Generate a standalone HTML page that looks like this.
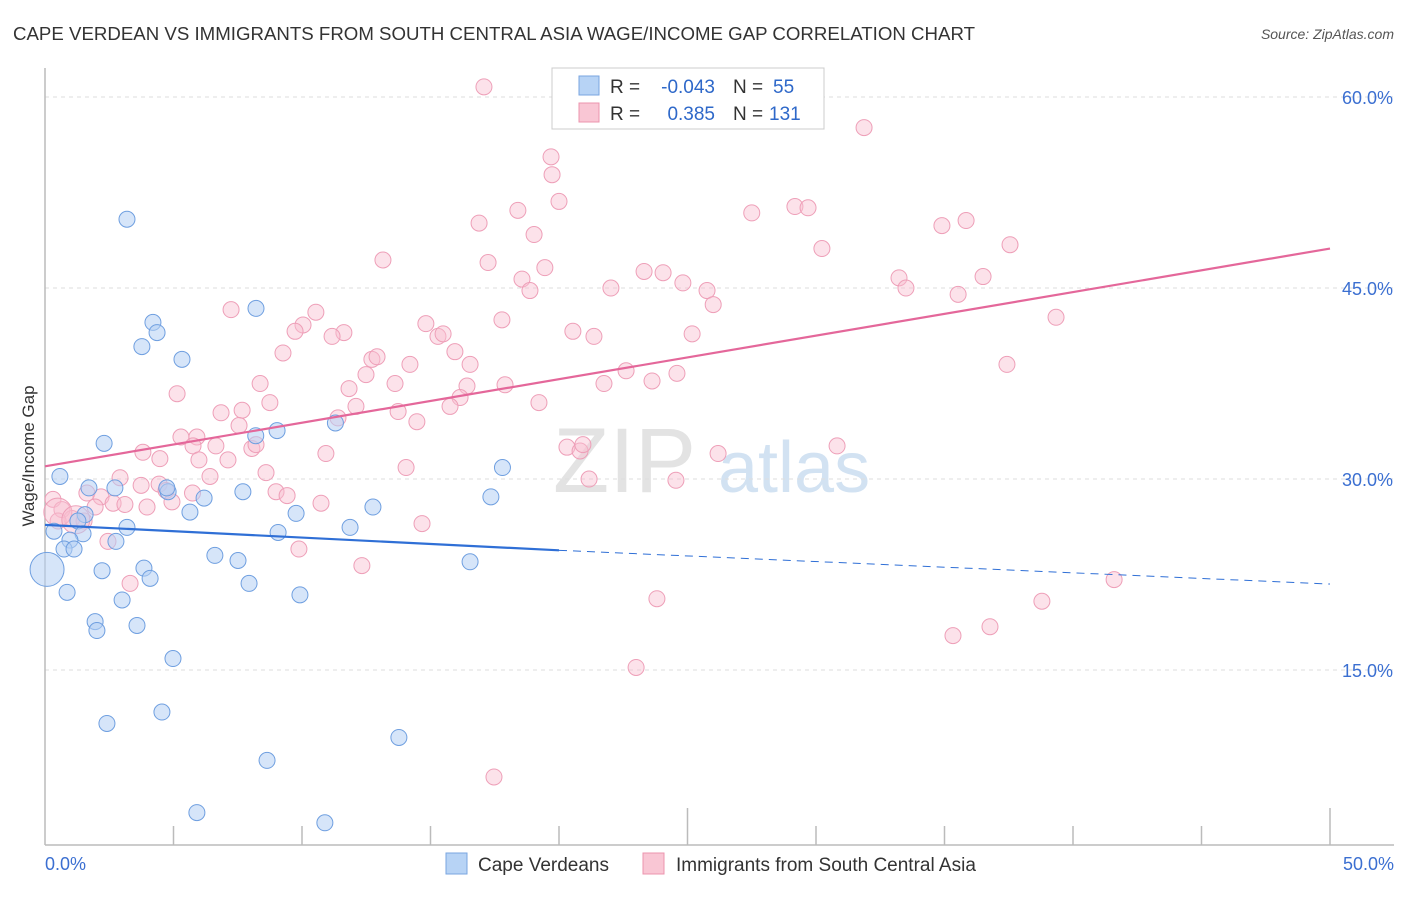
<!DOCTYPE html>
<html><head><meta charset="utf-8">
<style>
body{margin:0;background:#fff;font-family:"Liberation Sans",sans-serif;}
svg text{font-family:"Liberation Sans",sans-serif;}
</style></head>
<body>
<svg id="chart" width="1406" height="892" xmlns="http://www.w3.org/2000/svg">
<text x="13" y="40" font-size="18" fill="#333" textLength="962" lengthAdjust="spacingAndGlyphs">CAPE VERDEAN VS IMMIGRANTS FROM SOUTH CENTRAL ASIA WAGE/INCOME GAP CORRELATION CHART</text>
<text x="1394" y="39" font-size="14" fill="#555" text-anchor="end" font-style="italic">Source: ZipAtlas.com</text>
<text x="553" y="492" font-size="92" fill="#ddd" font-family="Liberation Serif" opacity="0.8">ZIP</text>
<text x="718" y="492" font-size="72" fill="#c8dcf0" opacity="0.8">atlas</text>
<g id="grid"></g>
<g id="axes"></g>
<g id="pink"></g>
<g id="blue"></g>
<g id="lines"></g>
<text transform="translate(34,456) rotate(-90)" font-size="17" fill="#333" text-anchor="middle">Wage/Income Gap</text>
<text x="45" y="870" font-size="18" fill="#3b6fd1">0.0%</text>
<text x="1394" y="870" font-size="18" fill="#3b6fd1" text-anchor="end">50.0%</text>
<g>
<rect x="552" y="68" width="272" height="61" fill="#fff" stroke="#ccc"/>
<rect x="579" y="76" width="20" height="19" fill="#b7d3f5" stroke="#7aa6e0"/>
<rect x="579" y="103" width="20" height="19" fill="#f9c6d4" stroke="#ec94ae"/>
<text x="610" y="93" font-size="19" fill="#333">R =</text>
<text x="715" y="93" font-size="19" fill="#2e68c9" text-anchor="end">-0.043</text>
<text x="733" y="93" font-size="19" fill="#333">N =</text>
<text x="773" y="93" font-size="19" fill="#2e68c9">55</text>
<text x="610" y="120" font-size="19" fill="#333">R =</text>
<text x="715" y="120" font-size="19" fill="#2e68c9" text-anchor="end">0.385</text>
<text x="733" y="120" font-size="19" fill="#333">N =</text>
<text x="769" y="120" font-size="19" fill="#2e68c9">131</text>
</g>
<g>
<rect x="446" y="853" width="21" height="21" fill="#b7d3f5" stroke="#7aa6e0"/>
<text x="478" y="871" font-size="19" fill="#333">Cape Verdeans</text>
<rect x="643" y="853" width="21" height="21" fill="#f9c6d4" stroke="#ec94ae"/>
<text x="676" y="871" font-size="19" fill="#333">Immigrants from South Central Asia</text>
</g>
</svg>
<script>
const yTicks=[15,30,45,60];
const yTickLabels=["15.0%","30.0%","45.0%","60.0%"];
const xTicks=[5,10,15,20,25,30,35,40,45,50];
const blueX=[3.19,8.21,4.2,4.36,3.77,5.33,2.3,9.03,8.2,11.3,0.58,1.71,2.72,4.79,4.74,6.19,7.7,17.8,17.35,12.76,9.77,5.64,1.56,1.28,3.19,0.35,1.48,11.87,9.07,0.97,2.76,0.74,1.13,6.61,7.51,16.54,3.85,2.22,4.09,7.94,0.86,3.0,9.92,1.95,2.02,3.58,4.98,4.55,2.41,13.77,8.64,5.91,10.89,0.08];
const blueY=[50.4,43.4,42.3,41.5,40.4,39.4,32.8,33.8,33.4,34.4,30.2,29.3,29.3,29.0,29.3,28.5,29.0,30.9,28.6,27.8,27.3,27.4,27.2,26.7,26.2,25.9,25.7,26.2,25.8,25.2,25.1,24.5,24.5,24.0,23.6,23.5,23.0,22.8,22.2,21.8,21.1,20.5,20.9,18.8,18.1,18.5,15.9,11.7,10.8,9.7,7.9,3.8,3.0,22.9];
const pinkX=[17.08,31.87,19.69,19.73,20.0,18.4,16.89,27.5,29.18,29.69,35.84,34.9,19.03,37.55,30.23,13.15,17.24,19.45,23.31,24.05,18.56,18.87,24.82,33.23,36.5,22.02,25.76,33.5,35.53,26.0,7.24,10.54,10.04,17.78,14.82,39.34,9.73,11.63,11.17,15.29,15.49,20.54,21.36,25.18,15.95,9.26,12.72,12.92,14.2,16.54,37.43,12.49,11.83,13.62,16.42,17.9,22.61,23.62,24.59,21.75,8.37,5.14,8.75,16.15,19.22,12.1,11.4,6.85,7.67,13.74,15.76,14.47,7.55,5.29,5.91,5.76,6.65,3.81,8.05,8.21,10.93,4.47,5.99,7.12,20.31,20.82,20.93,26.19,30.82,14.05,2.92,6.42,8.6,21.17,24.55,3.74,4.44,1.63,2.18,5.74,8.99,9.42,4.71,10.74,2.65,3.11,3.97,4.94,1.95,0.31,0.66,1.05,1.52,0.51,14.67,2.45,9.88,3.31,12.33,41.6,23.81,38.79,36.77,35.33,23.0,17.47,0.5,1.2];
const pinkY=[60.8,57.6,55.3,53.9,51.8,51.1,50.1,50.9,51.4,51.3,50.3,49.9,49.2,48.4,48.1,47.2,47.0,46.6,46.3,46.2,45.7,44.8,45.4,45.8,45.9,45.0,44.8,45.0,44.5,43.7,43.3,43.1,42.1,42.5,42.2,42.7,41.6,41.5,41.2,41.2,41.4,41.6,41.2,41.4,40.0,39.9,39.4,39.6,39.0,39.0,39.0,38.2,37.1,37.5,37.3,37.4,38.5,37.7,38.3,37.5,37.5,36.7,36.0,36.4,36.0,35.7,34.8,35.2,35.4,35.3,35.7,34.5,34.2,33.3,33.3,32.6,32.6,32.1,32.4,32.7,32.0,31.6,31.5,31.5,32.5,32.2,32.7,32.0,32.6,30.9,30.1,30.2,30.5,30.0,29.9,29.5,29.6,28.9,28.6,28.9,29.0,28.7,29.1,28.1,28.1,28.0,27.8,28.2,27.8,28.4,27.6,26.9,26.7,26.7,26.5,25.1,24.5,21.8,23.2,22.1,20.6,20.4,18.4,17.7,15.2,6.6,27.4,26.8];
const blueTrend=[[0,26.4],[20,24.4],[50,21.75]];
const pinkTrend=[[0,31.0],[50,48.1]];
const X0=45,X1=1330,Y0=861,PXV=12.733;
const xs=v=>X0+(X1-X0)*v/50;
const ys=v=>Y0-PXV*v;
const NS="http://www.w3.org/2000/svg";
function mk(tag,attrs,parent){const e=document.createElementNS(NS,tag);for(const k in attrs)e.setAttribute(k,attrs[k]);document.getElementById(parent).appendChild(e);return e;}
yTicks.forEach((t,i)=>{
  const l=mk('line',{x1:45,x2:1394,y1:ys(t),y2:ys(t),stroke:'#ddd','stroke-dasharray':'4,4'},'grid');
  
  
  const tx=mk('text',{x:1393,y:ys(t)+7,'font-size':18,fill:'#3b6fd1','text-anchor':'end'},'grid');
  tx.textContent=yTickLabels[i];
  
  
});
const ax=mk('line',{x1:45,x2:45,y1:68,y2:845,stroke:'#bbb','stroke-width':1.5},'axes');


const bx=mk('line',{x1:45,x2:1394,y1:845,y2:845,stroke:'#bbb','stroke-width':1.5},'axes');


xTicks.forEach(t=>{
  const l=mk('line',{x1:xs(t),x2:xs(t),y1:(t%25===0?808:826),y2:845,stroke:'#bbb','stroke-width':1.5},'axes');
  
  
});
pinkX.forEach((v,i)=>{
  const big=i>=pinkX.length-2;
  const c=mk('circle',{cx:xs(v),cy:ys(pinkY[i]),r:big?14:8,fill:'rgba(248,190,208,0.45)',stroke:'#ee9fb8','stroke-width':1},'pink');
  
  
});
blueX.forEach((v,i)=>{
  const big=i===blueX.length-1;
  const c=mk('circle',{cx:xs(v),cy:ys(blueY[i]),r:big?17:8,fill:'rgba(180,208,244,0.55)',stroke:'#6f9fe0','stroke-width':1},'blue');
  
  
});
const b1=mk('line',{x1:xs(blueTrend[0][0]),y1:ys(blueTrend[0][1]),x2:xs(blueTrend[1][0]),y2:ys(blueTrend[1][1]),stroke:'#2f6fd6','stroke-width':2.2},'lines');


const b2=mk('line',{x1:xs(blueTrend[1][0]),y1:ys(blueTrend[1][1]),x2:xs(blueTrend[2][0]),y2:ys(blueTrend[2][1]),stroke:'#2f6fd6','stroke-width':1,'stroke-dasharray':'8,6'},'lines');


const p1=mk('line',{x1:xs(pinkTrend[0][0]),y1:ys(pinkTrend[0][1]),x2:xs(pinkTrend[1][0]),y2:ys(pinkTrend[1][1]),stroke:'#e4679a','stroke-width':2.2},'lines');


</script>
</body></html>
